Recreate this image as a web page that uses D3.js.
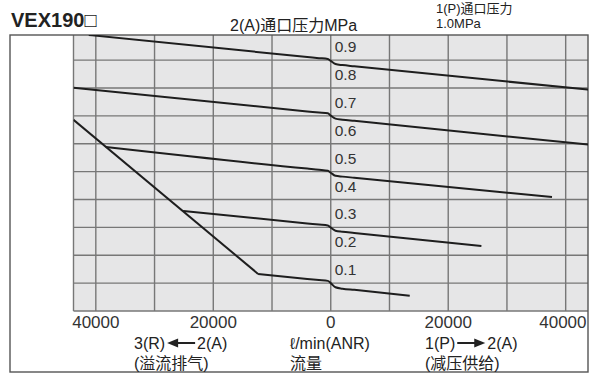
<!DOCTYPE html>
<meta charset="utf-8">
<style>
body { margin: 0; background: #fff; }
text { font-family: "Liberation Sans", Arial, "Noto Sans CJK SC", sans-serif; fill: #222; }
</style>
<body>
<script src="https://cdn.jsdelivr.net/npm/d3@7"></script>
<script>

var width = 600, height = 374;

// flow l/min (ANR): negative = 2(A)->3(R) relief, positive = 1(P)->2(A) supply
var xTicks = [-40000, -30000, -20000, -10000, 0, 10000, 20000, 30000, 40000];
var xTickLabels = ["40000", "20000", "0", "20000", "40000"];
var xLabelValues = [-40000, -20000, 0, 20000, 40000];
var yGrid = [0, 0.1, 0.2, 0.3, 0.4, 0.5, 0.6, 0.7, 0.8, 0.9];
var yBandLabels = ["0.1", "0.2", "0.3", "0.4", "0.5", "0.6", "0.7", "0.8", "0.9"];

// 2(A) port pressure curves, [flow, MPa]
var curve08 = [[-41200, 0.990], [-4000, 0.911], [-2000, 0.907], [-500, 0.904], [0, 0.897], [800, 0.886], [2000, 0.882], [4000, 0.878], [43800, 0.794]];
var curve06 = [[-43800, 0.801], [-4000, 0.716], [-2000, 0.712], [-500, 0.709], [0, 0.701], [800, 0.690], [2000, 0.686], [4000, 0.682], [43800, 0.597]];
var curve04 = [[-38300, 0.588], [-4000, 0.511], [-2000, 0.507], [-500, 0.503], [0, 0.496], [800, 0.485], [2000, 0.482], [4000, 0.478], [37670, 0.409]];
var curve02 = [[-25140, 0.359], [-4000, 0.314], [-2000, 0.310], [-500, 0.307], [0, 0.299], [800, 0.288], [2000, 0.284], [4000, 0.280], [25650, 0.233]];
var curve01 = [[-12370, 0.133], [-4000, 0.115], [-2000, 0.111], [-500, 0.108], [0, 0.100], [800, 0.085], [2000, 0.080], [4000, 0.076], [13450, 0.055]];
var reliefLimit = [[-43800, 0.686], [-12370, 0.133]];

var svg = d3.select("body").append("svg")
    .attr("width", width)
    .attr("height", height);

var x = d3.scaleLinear().domain([-43800, 43800]).range([73.5, 588]);
var y = d3.scaleLinear().domain([0, 0.99]).range([311, 35]);

// plot background
svg.append("rect")
  .attr("x", x(-43800)).attr("y", y(0.99))
  .attr("width", x(43800) - x(-43800)).attr("height", y(0) - y(0.99))
  .attr("fill", "#e6e6e7");

var grid = svg.append("g").attr("stroke", "#777").attr("stroke-width", 1.4);
grid.selectAll(".v").data(xTicks).enter().append("line")
  .attr("x1", function(d){ return x(d); }).attr("x2", function(d){ return x(d); })
  .attr("y1", y(0.99)).attr("y2", y(0));
grid.selectAll(".h").data(yGrid).enter().append("line")
  .attr("x1", x(-43800)).attr("x2", x(43800))
  .attr("y1", function(d){ return y(d); }).attr("y2", function(d){ return y(d); });
grid.append("line")
  .attr("x1", x(-43800)).attr("x2", x(-43800))
  .attr("y1", y(0.99)).attr("y2", y(0));

// outer frame
svg.append("rect")
  .attr("x", 10).attr("y", 35)
  .attr("width", 578).attr("height", 337)
  .attr("fill", "none").attr("stroke", "#555").attr("stroke-width", 1.4);

svg.append("clipPath").attr("id", "clip").append("rect")
  .attr("x", x(-43800)).attr("y", y(0.99))
  .attr("width", x(43800) - x(-43800)).attr("height", y(0) - y(0.99));

var line = d3.line()
  .x(function(d){ return x(d[0]); })
  .y(function(d){ return y(d[1]); })
  .curve(d3.curveMonotoneX);

svg.append("g").attr("clip-path", "url(#clip)")
  .selectAll("path")
  .data([curve08, curve06, curve04, curve02, curve01, reliefLimit])
  .enter().append("path")
  .attr("d", line)
  .attr("fill", "none")
  .attr("stroke", "#1e1e1e")
  .attr("stroke-width", 2);

// band labels
svg.selectAll(".blab").data(yBandLabels).enter().append("text")
  .attr("x", x(0) + 4)
  .attr("y", function(d){ return y(+d + 0.05) + 6; })
  .attr("font-size", 15.5)
  .style("fill", "#333")
  .text(function(d){ return d; });

// x labels (last one kept inside the frame)
svg.selectAll(".xlab").data(xLabelValues).enter().append("text")
  .attr("x", function(d, i){ return i === xLabelValues.length - 1 ? 586.5 : x(d); })
  .attr("y", 328)
  .attr("text-anchor", function(d, i){ return i === xLabelValues.length - 1 ? "end" : "middle"; })
  .attr("font-size", 17)
  .style("fill", "#333")
  .text(function(d, i){ return xTickLabels[i]; });

// titles
svg.append("text").attr("x", 11).attr("y", 27)
  .attr("font-size", 20).attr("font-weight", "bold").text("VEX190□");
svg.append("text").attr("x", 230).attr("y", 31)
  .attr("font-size", 16).text("2(A)通口压力MPa");
svg.append("text").attr("x", 436).attr("y", 13)
  .attr("font-size", 13).text("1(P)通口压力");
svg.append("text").attr("x", 436).attr("y", 28)
  .attr("font-size", 13).text("1.0MPa");

// axis captions
function arrowText(x0, left, right, dir) {
  var g = svg.append("g");
  var t1 = g.append("text").attr("x", x0).attr("y", 348.5).attr("font-size", 16).text(left);
  var w = t1.node().getComputedTextLength();
  var ax0 = x0 + w + 2, ax1 = ax0 + 28;
  var tip = dir < 0 ? ax0 : ax1, tail = dir < 0 ? ax1 : ax0;
  g.append("line").attr("x1", tail).attr("x2", tip + (dir < 0 ? 8 : -8))
    .attr("y1", 343).attr("y2", 343).attr("stroke", "#222").attr("stroke-width", 2);
  g.append("path")
    .attr("d", "M" + tip + ",343 L" + (tip - dir * 11) + ",338.5 L" + (tip - dir * 11) + ",347.5 Z")
    .attr("fill", "#222");
  g.append("text").attr("x", ax1 + 2).attr("y", 348.5).attr("font-size", 16).text(right);
}
arrowText(134, "3(R)", "2(A)", -1);
arrowText(425, "1(P)", "2(A)", 1);

svg.append("text").attr("x", 290).attr("y", 348.5).attr("font-size", 16).text("ℓ/min(ANR)");
svg.append("text").attr("x", 134).attr("y", 369).attr("font-size", 16).text("(溢流排气)");
svg.append("text").attr("x", 290).attr("y", 369).attr("font-size", 16).text("流量");
svg.append("text").attr("x", 425).attr("y", 369).attr("font-size", 16).text("(减压供给)");

</script>
